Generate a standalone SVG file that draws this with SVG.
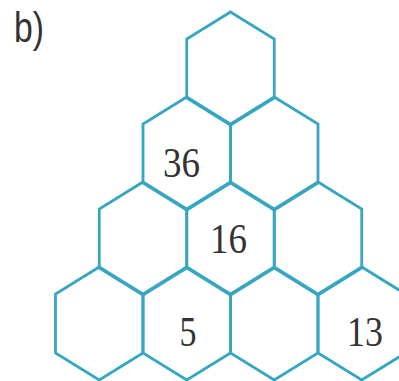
<svg xmlns="http://www.w3.org/2000/svg" xmlns:xlink="http://www.w3.org/1999/xlink" width="399" height="381" viewBox="0 0 399 381">
<style>
.hex{fill:none;stroke:#36a6c1;stroke-width:2.8;stroke-linejoin:miter}
.num{font-family:"Liberation Serif",serif;font-size:43px;fill:#333;text-anchor:middle}
.lbl{font-family:"Liberation Sans",sans-serif;font-size:43px;fill:#333}
</style>
<defs>
<polygon id="h" class="hex" points="0,0 43.75,27 43.75,86 0,113 -43.75,86 -43.75,27"/>
</defs>
<rect width="399" height="381" fill="#fff"/>
<text class="lbl" x="14" y="42" textLength="30" lengthAdjust="spacingAndGlyphs">b)</text>
<g id="r1c1"><use xlink:href="#h" x="230.5" y="12"/></g>
<g id="r2c1"><use xlink:href="#h" x="186.75" y="97"/><text class="num" x="181.5" y="177" textLength="37" lengthAdjust="spacingAndGlyphs">36</text></g>
<g id="r2c2"><use xlink:href="#h" x="274.25" y="97"/></g>
<g id="r3c1"><use xlink:href="#h" x="143" y="182"/></g>
<g id="r3c2"><use xlink:href="#h" x="230.5" y="182"/><text class="num" x="228.5" y="253" textLength="37" lengthAdjust="spacingAndGlyphs">16</text></g>
<g id="r3c3"><use xlink:href="#h" x="318" y="182"/></g>
<g id="r4c1"><use xlink:href="#h" x="99.25" y="267"/></g>
<g id="r4c2"><use xlink:href="#h" x="186.75" y="267"/><text class="num" x="188" y="346" textLength="17" lengthAdjust="spacingAndGlyphs">5</text></g>
<g id="r4c3"><use xlink:href="#h" x="274.25" y="267"/></g>
<g id="r4c4"><use xlink:href="#h" x="361.75" y="267"/><text class="num" x="365" y="346" textLength="36" lengthAdjust="spacingAndGlyphs">13</text></g>
</svg>
